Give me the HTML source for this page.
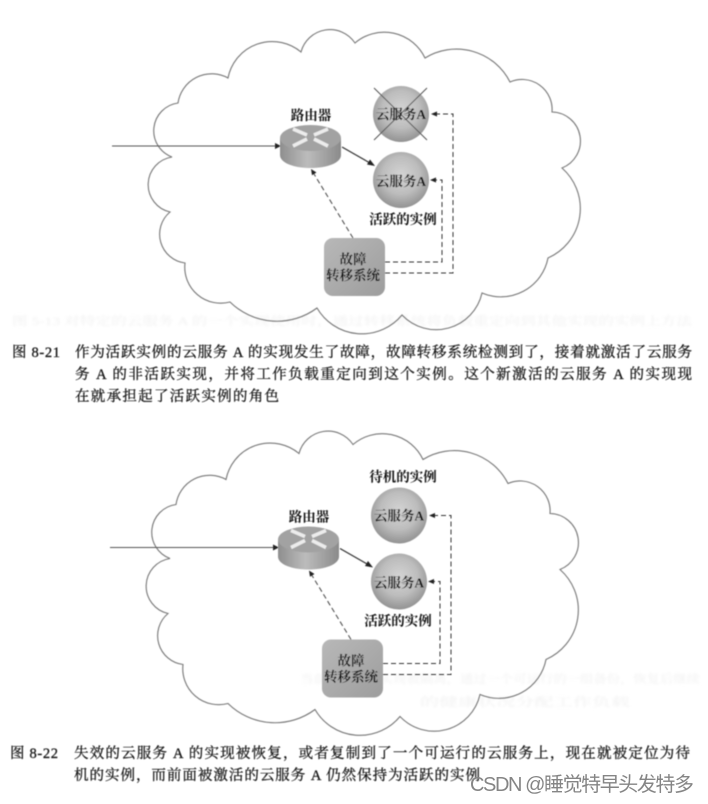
<!DOCTYPE html>
<html><head><meta charset="utf-8">
<style>
html,body{margin:0;padding:0;background:#fff;width:708px;height:804px;overflow:hidden}
svg{display:block}
.b{font-family:"Liberation Serif","Noto Serif CJK SC",serif;font-weight:700;fill:#111;font-size:13.5px;text-anchor:middle}
.c{font-family:"Liberation Serif","Noto Serif CJK SC",serif;font-size:14.5px;fill:#111;stroke:#111;stroke-width:.25}
.g{font-family:"Liberation Serif","Noto Serif CJK SC",serif;font-size:12px;fill:#f0f0f0}
.w{font-family:"Liberation Sans","Noto Sans CJK SC",sans-serif;font-size:20px;font-weight:400;fill:#858585}
</style></head><body>
<svg width="708" height="804" viewBox="0 0 708 804" xmlns="http://www.w3.org/2000/svg">
<defs>
<filter id="bl" x="-5%" y="-5%" width="110%" height="110%"><feGaussianBlur stdDeviation="0.55"/></filter>
<filter id="bl2" x="-5%" y="-50%" width="110%" height="200%"><feGaussianBlur stdDeviation="1.2"/></filter>
<radialGradient id="sp" cx="50%" cy="42%" r="60%"><stop offset="0" stop-color="#d4d4d4"/><stop offset=".55" stop-color="#bdbdbd"/><stop offset="1" stop-color="#8f8f8f"/></radialGradient>
<linearGradient id="rt" x1="0" x2="1" y1="0" y2="0"><stop offset="0" stop-color="#8e8e8e"/><stop offset=".45" stop-color="#bcbcbc"/><stop offset="1" stop-color="#8a8a8a"/></linearGradient>
<linearGradient id="bx" x1="0" x2="1" y1="0" y2="1"><stop offset="0" stop-color="#b8b8b8"/><stop offset="1" stop-color="#9d9d9d"/></linearGradient>
<path id="cl" d="M228 78A45 45 0 0 1 301 52A30 30 0 0 1 355 43A45 45 0 0 1 425 58A60 60 0 0 1 510 82A30 30 0 0 1 552 112A29 29 0 0 1 562 168A54 54 0 0 1 548 258A48 48 0 0 1 482 293A47 47 0 0 1 402 315A52 52 0 0 1 317 308A67 67 0 0 1 230 302A36 36 0 0 1 185 263A29 29 0 0 1 170 212A28 28 0 0 1 172 157A28 28 0 0 1 178 103A34 34 0 0 1 228 78Z" fill="none" stroke="#777" stroke-width="1.1"/>
<g id="art">
<use href="#cl"/>
<path d="M112 146H276" stroke="#555" stroke-width="1" fill="none"/>
<path d="M281 146l-6-3v6z" fill="#222"/>
<path d="M280 138v17c0 8 14 13 30.500 13s30.500-5 30.500-13v-17z" fill="url(#rt)"/>
<ellipse cx="310.500" cy="138" rx="30.500" ry="13" fill="#a2a2a2"/>
<path d="M293 129l14 6M293 146l14-7M328 129l-14 6M328 146l-14-7" stroke="#ececec" stroke-width="3.500" fill="none"/>
<path d="M342 147L370 163" stroke="#333" stroke-width="1.2"/>
<path d="M375 166l-8-1.500 3-5z" fill="#222"/>
<circle cx="401" cy="114" r="28" fill="url(#sp)"/>
<circle cx="401" cy="180" r="28" fill="url(#sp)"/>
<rect x="324" y="238" width="61" height="58" rx="9" fill="url(#bx)"/>
<path d="M385 262H442V180H434M385 273H453V114H435" fill="none" stroke="#333" stroke-width="1" stroke-dasharray="5 3"/>
<path d="M430 180l6-2.500v5zM431 114l6-2.500v5z" fill="#222"/>
<path d="M353 238L314 174" fill="none" stroke="#444" stroke-width="1" stroke-dasharray="5 3"/>
<path d="M311 169l5.500 3.500-4.500 2.700z" fill="#222"/>
</g>
</defs>
<g filter="url(#bl2)">
<text class="g" x="12" y="325" textLength="680" lengthAdjust="spacingAndGlyphs">图 5-13 对特定的云服务 A 的一个实现使用时，通过转移系统将负载重定向到其他实现的实例上方法</text>
<text class="g" x="300" y="683" textLength="400" lengthAdjust="spacingAndGlyphs">当前的云服务实现被隔离，通过一个可运行的一组备份，恢复后继续</text>
<text class="g" x="420" y="706" textLength="210" lengthAdjust="spacingAndGlyphs">的健康状况分配工作负载</text>
</g>
<g filter="url(#bl)">
<use href="#art"/>
<path d="M374 88L427 140M427 88L374 140" stroke="#555" stroke-width="1"/>
<text class="b" x="311" y="120">路由器</text>
<text class="b" x="401" y="119">云服务A</text>
<text class="b" x="401" y="186">云服务A</text>
<text class="b" x="403" y="224">活跃的实例</text>
<text class="b" x="353" y="264">故障</text>
<text class="b" x="353" y="280">转移系统</text>

<g transform="translate(-2 401.500)">
<use href="#art"/>
<text class="b" x="311" y="120">路由器</text>
<text class="b" x="401" y="119">云服务A</text>
<text class="b" x="401" y="186">云服务A</text>
<text class="b" x="400" y="224">活跃的实例</text>
<text class="b" x="405" y="80">待机的实例</text>
<text class="b" x="353" y="264">故障</text>
<text class="b" x="353" y="280">转移系统</text>
</g>

<text class="c" x="12" y="357" textLength="48" lengthAdjust="spacing">图 8-21</text>
<text class="c" x="75" y="357" textLength="617" lengthAdjust="spacing">作为活跃实例的云服务 A 的实现发生了故障，故障转移系统检测到了，接着就激活了云服务</text>
<text class="c" x="75" y="379" textLength="617" lengthAdjust="spacing">务 A 的非活跃实现，并将工作负载重定向到这个实例。这个新激活的云服务 A 的实现现</text>
<text class="c" x="75" y="401" textLength="204" lengthAdjust="spacing">在就承担起了活跃实例的角色</text>
<text class="c" x="10" y="758" textLength="48" lengthAdjust="spacing">图 8-22</text>
<text class="c" x="74" y="758" textLength="616" lengthAdjust="spacing">失效的云服务 A 的实现被恢复，或者复制到了一个可运行的云服务上，现在就被定位为待</text>
<text class="c" x="74" y="780" textLength="406" lengthAdjust="spacing">机的实例，而前面被激活的云服务 A 仍然保持为活跃的实例</text>
</g>
<text class="w" x="470" y="791" textLength="224" lengthAdjust="spacing">CSDN @睡觉特早头发特多</text>
</svg>
</body></html>
